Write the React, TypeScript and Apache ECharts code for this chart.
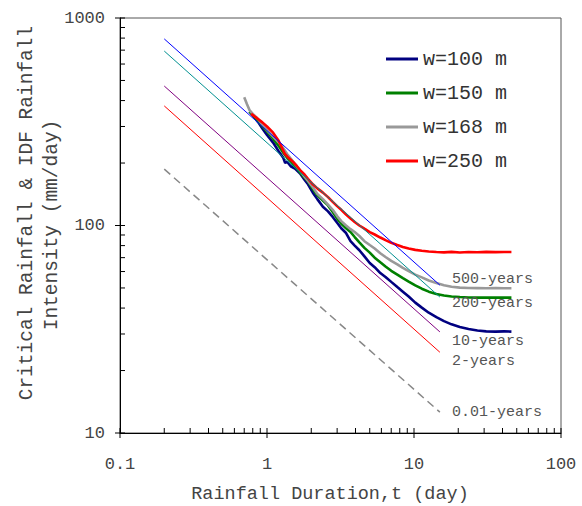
import React, { useEffect, useRef } from "react";
import * as echarts from "echarts";

const FONT = '"Liberation Mono", "Courier New", monospace';
const TEXT = "#444";

// Critical rainfall curves (duration in days, intensity in mm/day)
const durW100 = [0.76, 0.8, 0.87, 0.94, 1.0, 1.1, 1.2, 1.29, 1.33, 1.37, 1.45, 1.55, 1.68, 1.8, 1.9, 2.05, 2.2, 2.4, 2.6, 2.8, 3.0, 3.2, 3.45, 3.7, 3.95, 4.25, 4.6, 5.0, 5.4, 5.9, 6.4, 7.0, 7.7, 8.4, 9.2, 10.2, 11.3, 12.6, 14.2, 16, 18, 20.5, 23.5, 27, 31, 36, 41, 46];
const intW100 = [355, 340, 315, 290, 273, 251, 228, 212, 200, 203, 193, 188, 178, 166, 158, 144, 134, 123, 117, 110, 103, 97, 92, 84, 80, 76, 71, 66, 63, 59, 56.5, 53.5, 50.5, 48, 45.5, 42.5, 40.2, 38, 36.2, 34.6, 33.4, 32.4, 31.7, 31.2, 30.9, 30.8, 30.9, 30.8];

const durW150 = [0.76, 0.8, 0.87, 0.94, 1.0, 1.1, 1.2, 1.29, 1.37, 1.45, 1.55, 1.68, 1.8, 1.9, 2.05, 2.2, 2.4, 2.6, 2.8, 3.0, 3.2, 3.45, 3.7, 3.95, 4.25, 4.6, 5.0, 5.4, 5.9, 6.4, 7.0, 7.7, 8.4, 9.2, 10.2, 11.3, 12.6, 14.2, 16, 18, 20.5, 23.5, 27, 31, 36, 41, 46];
const intW150 = [354, 340, 318, 298, 284, 262, 242, 224, 212, 204, 194, 180, 170, 163, 150, 140, 132, 125, 116, 108, 102, 97, 93, 88, 83, 78, 74, 70, 66.5, 63.5, 60.5, 58, 55.8, 53.7, 51.5, 49.6, 48, 46.8, 46, 45.5, 45.2, 45, 44.9, 45, 44.9, 44.9, 44.9];

const durW168 = [0.7, 0.73, 0.76, 0.8, 0.87, 0.94, 1.0, 1.1, 1.2, 1.29, 1.37, 1.45, 1.55, 1.68, 1.8, 1.9, 2.05, 2.2, 2.4, 2.6, 2.8, 3.0, 3.2, 3.45, 3.7, 3.95, 4.25, 4.6, 5.0, 5.4, 5.9, 6.4, 7.0, 7.7, 8.4, 9.2, 10.2, 11.3, 12.6, 14.2, 16, 18, 20.5, 23.5, 27, 31, 36, 41, 46];
const intW168 = [415, 385, 360, 345, 326, 303, 288, 268, 252, 236, 221, 210, 198, 184, 172, 164, 153, 142, 134, 126, 119, 111, 105, 100, 96, 93, 89, 84, 80.5, 77.5, 73.5, 70.5, 67.5, 65, 62.5, 60.3, 58, 56.2, 54.3, 52.8, 51.5, 50.7, 50.2, 50, 49.9, 49.8, 49.9, 49.8, 49.8];

const durW250 = [0.78, 0.85, 0.93, 1.0, 1.1, 1.2, 1.26, 1.32, 1.4, 1.5, 1.6, 1.7, 1.8, 1.9, 2.05, 2.2, 2.4, 2.6, 2.8, 3.0, 3.2, 3.45, 3.7, 3.95, 4.25, 4.6, 5.0, 5.4, 5.9, 6.4, 7.0, 7.7, 8.4, 9.2, 10.2, 11.3, 12.6, 14.2, 16, 18, 20.5, 23.5, 27, 31, 36, 41, 46];
const intW250 = [345, 330, 314, 300, 280, 256, 238, 222, 212, 203, 193, 183, 176, 168, 158, 151, 144, 137, 130, 124, 119, 113, 108, 104, 100, 96.5, 93, 90.5, 87.5, 85, 82.5, 80.5, 78.8, 77.5, 76.3, 75.5, 75, 74.5, 74.2, 74.6, 74.1, 74.5, 74.3, 74.6, 74.4, 74.5, 74.5];

// IDF lines (return periods)
const idfDurations = [0.2, 15];
const idf500 = [793, 51.6];
const idf200 = [693, 45.2];
const idf10 = [470, 30.7];
const idf2 = [377, 24.5];
const idf001 = [187, 12.6];

// Axis ticks
const xMin = 0.1;
const xMax = 100;
const yMin = 10;
const yMax = 1000;
const xMajorTicks = [0.1, 1, 10, 100];
const xMinorTicks = [0.2, 0.3, 0.4, 0.5, 0.6, 0.7, 0.8, 0.9, 2, 3, 4, 5, 6, 7, 8, 9, 20, 30, 40, 50, 60, 70, 80, 90];
const yMajorTicks = [10, 100, 1000];
const yMinorTicks = [20, 30, 40, 50, 60, 70, 80, 90, 200, 300, 400, 500, 600, 700, 800, 900];

const pairs = (xs: number[], ys: number[]) => xs.map((x, i) => [x, ys[i]]);

export default function App() {
  const ref = useRef<HTMLDivElement>(null);
  useEffect(() => {
    if (!ref.current) return;
    const chart = echarts.init(ref.current, null, { renderer: "svg" });

    const curve = (name: string, color: string, xs: number[], ys: number[]) => ({
      name,
      type: "line",
      data: pairs(xs, ys),
      showSymbol: false,
      symbol: "none",
      color,
      lineStyle: { color, width: 2.6 },
      z: 3,
    });

    const idf = (name: string, color: string, ys: number[], dy: number, dashed = false) => ({
      name,
      type: "line",
      data: pairs(idfDurations, ys),
      showSymbol: false,
      symbol: "none",
      lineStyle: { color, width: dashed ? 1.5 : 1, type: dashed ? [8, 5] : "solid" },
      z: 4,
      endLabel: {
        show: true,
        formatter: name,
        color: "#555",
        fontFamily: FONT,
        fontSize: 15,
        offset: [4, dy],
      },
    });

    const tickData = [
      ...xMajorTicks.map((v) => [v, yMin, 0]),
      ...xMinorTicks.map((v) => [v, yMin, 1]),
      ...yMajorTicks.map((v) => [xMin, v, 2]),
      ...yMinorTicks.map((v) => [xMin, v, 3]),
    ];

    chart.setOption({
      animation: false,
      backgroundColor: "#fff",
      grid: {
        left: 120,
        right: 21,
        top: 18,
        bottom: 73,
        show: true,
        borderColor: "#555",
        borderWidth: 1,
      },
      legend: {
        data: ["w=100 m", "w=150 m", "w=168 m", "w=250 m"],
        orient: "vertical",
        left: 381,
        top: 44,
        icon: "rect",
        itemWidth: 32,
        itemHeight: 3,
        itemGap: 14,
        textStyle: { fontFamily: FONT, fontSize: 20, color: "#333", lineHeight: 20 },
      },
      xAxis: {
        type: "log",
        logBase: 10,
        min: xMin,
        max: xMax,
        axisLine: { lineStyle: { color: "#000", width: 1 } },
        axisTick: { show: false },
        splitLine: { show: false },
        axisLabel: {
          fontFamily: FONT,
          fontSize: 17,
          color: TEXT,
          margin: 23,
          formatter: (v: number) => String(Number(v.toPrecision(3))),
        },
      },
      yAxis: {
        type: "log",
        logBase: 10,
        min: yMin,
        max: yMax,
        axisLine: { lineStyle: { color: "#000", width: 1 } },
        axisTick: { show: false },
        splitLine: { show: false },
        axisLabel: {
          fontFamily: FONT,
          fontSize: 17,
          color: TEXT,
          margin: 15,
          formatter: (v: number) => String(Number(v.toPrecision(3))),
        },
      },
      graphic: [
        {
          type: "text",
          x: 27,
          y: 213,
          rotation: Math.PI / 2,
          style: {
            text: "Critical Rainfall & IDF Rainfall",
            fontFamily: FONT,
            fontSize: 19.5,
            fill: TEXT,
            textAlign: "center",
            textVerticalAlign: "middle",
          },
        },
        {
          type: "text",
          x: 52,
          y: 225,
          rotation: Math.PI / 2,
          style: {
            text: "Intensity (mm/day)",
            fontFamily: FONT,
            fontSize: 19.5,
            fill: TEXT,
            textAlign: "center",
            textVerticalAlign: "middle",
          },
        },
        {
          type: "text",
          x: 330,
          y: 494,
          style: {
            text: "Rainfall Duration,t (day)",
            fontFamily: FONT,
            fontSize: 18.5,
            fill: TEXT,
            textAlign: "center",
            textVerticalAlign: "middle",
          },
        },
      ],
      series: [
        curve("w=100 m", "#000080", durW100, intW100),
        curve("w=150 m", "#008000", durW150, intW150),
        curve("w=168 m", "#999999", durW168, intW168),
        curve("w=250 m", "#ff0000", durW250, intW250),
        idf("500-years", "#0000ff", idf500, -6),
        idf("200-years", "#009090", idf200, 6),
        idf("10-years", "#800080", idf10, 10),
        idf("2-years", "#ff0000", idf2, 9),
        idf("0.01-years", "#888888", idf001, 0, true),
        {
          type: "custom",
          name: "ticks",
          clip: false,
          silent: true,
          z: 10,
          encode: { x: 0, y: 1 },
          data: tickData,
          renderItem: (_params: any, api: any) => {
            const p = api.coord([api.value(0), api.value(1)]);
            const k = api.value(2);
            let shape;
            if (k === 0) shape = { x1: p[0], y1: p[1] - 5, x2: p[0], y2: p[1] + 5 };
            else if (k === 1) shape = { x1: p[0], y1: p[1] - 5, x2: p[0], y2: p[1] };
            else if (k === 2) shape = { x1: p[0] - 5, y1: p[1], x2: p[0] + 5, y2: p[1] };
            else shape = { x1: p[0], y1: p[1], x2: p[0] + 5, y2: p[1] };
            return { type: "line", shape, style: { stroke: "#000", lineWidth: 1 } };
          },
        },
      ],
    });
    return () => chart.dispose();
  }, []);

  return (
    <div
      ref={ref}
      style={{ position: "fixed", left: 0, top: 0, width: 582, height: 506, background: "#fff" }}
    />
  );
}
